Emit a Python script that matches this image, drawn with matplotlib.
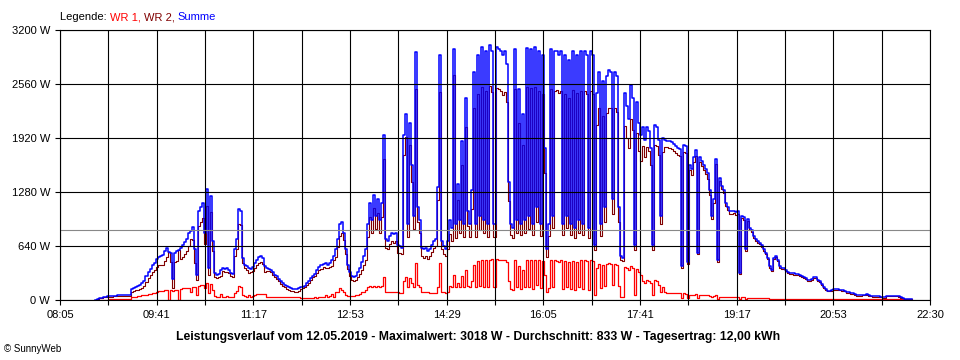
import numpy as np
import matplotlib
matplotlib.use("Agg")
import matplotlib.pyplot as plt

# ---------------- data (2-minute samples starting 08:40) ----------------
start_label = "08:40"
step_minutes = 2

# Summe (blue), read row by row: each row = 30 minutes
summe = [
    5, 15, 20, 20, 35, 40, 42, 45, 50, 52, 52, 55, 55, 58, 60,
    60, 62, 65, 125, 140, 155, 165, 175, 200, 230, 280, 330, 370, 410, 440,
    490, 515, 520, 530, 580, 620, 570, 560, 250, 560, 580, 590, 620, 650, 690,
    720, 790, 820, 860, 600, 300, 1050, 1100, 1150, 800, 1320, 380, 1230, 700, 320,
    300, 310, 350, 380, 370, 380, 360, 320, 310, 600, 720, 1075, 1050, 500, 420,
    400, 380, 370, 390, 440, 480, 510, 520, 500, 400, 380, 370, 360, 330, 300,
    280, 250, 220, 200, 180, 165, 150, 140, 135, 130, 130, 140, 150, 160, 170,
    200, 230, 260, 290, 310, 350, 390, 410, 430, 440, 420, 440, 470, 520, 600,
    720, 900, 920, 800, 600, 420, 330, 290, 270, 290, 330, 380, 450, 520, 600,
    900, 1150, 950, 1250, 1000, 1200, 950, 1150, 1950, 720, 700, 760, 800, 780, 800,
    650, 640, 620, 1950, 2200, 900, 2100, 1600, 1000, 2940, 1100, 950, 620, 600, 620,
    580, 600, 650, 700, 720, 1340, 2900, 700, 640, 600, 700, 950, 850, 2970, 900,
    1380, 950, 1880, 900, 2400, 1050, 900, 1300, 2700, 900, 2900, 1000, 3000, 950, 2950,
    900, 3018, 2950, 900, 3000, 2980, 2950, 2900, 2950, 2800, 1400, 900, 850, 2970, 950,
    2500, 900, 2200, 950, 2990, 1000, 2980, 900, 3000, 1100, 2950, 900, 2900, 1800, 600,
    900, 2970, 1000, 2950, 2950, 2900, 2950, 900, 2900, 1000, 2850, 900, 2950, 850, 2900,
    950, 2950, 900, 2950, 2900, 850, 2950, 2900, 650, 2450, 2700, 900, 2600, 1100, 2650,
    2720, 2700, 1200, 2700, 2650, 1100, 520, 500, 2450, 2300, 2150, 2550, 2400, 650, 2350,
    2100, 1950, 2050, 1900, 2050, 2000, 1800, 650, 2080, 2050, 1900, 1000, 1920, 1900, 1890,
    1880, 1870, 1850, 1820, 1800, 1790, 400, 1840, 1820, 450, 1600, 1550, 1700, 1780, 560,
    1700, 1650, 1600, 1550, 1500, 1300, 1000, 1200, 1670, 470, 1450, 1350, 1300, 1150, 1100,
    1050, 1050, 1060, 1040, 1050, 320, 1000, 980, 600, 960, 850, 830, 760, 720, 700,
    680, 650, 600, 560, 500, 400, 360, 500, 520, 480, 400, 380, 380, 360, 330,
    320, 320, 315, 310, 305, 300, 290, 270, 260, 240, 240, 250, 270, 275, 240,
    220, 190, 150, 130, 110, 110, 115, 125, 125, 125, 122, 118, 110, 95, 90,
    85, 80, 70, 60, 60, 60, 62, 65, 70, 60, 50, 47, 45, 45, 45,
    40, 30, 30, 50, 52, 52, 50, 50, 50, 48, 30, 28, 15, 12, 12,
    10, 8,
]

# WR 1 (red)
wr1 = [
    0, 0, 0, 0, 0, 0, 5, 8, 10, 10, 10, 10, 12, 12, 15,
    15, 15, 15, 30, 35, 40, 45, 50, 55, 60, 65, 70, 75, 80, 85,
    100, 105, 110, 110, 115, 115, 0, 115, 110, 115, 118, 0, 130, 140, 140,
    140, 145, 100, 150, 160, 60, 170, 175, 180, 140, 200, 80, 190, 120, 45,
    40, 40, 70, 40, 40, 45, 40, 40, 40, 80, 110, 170, 160, 60, 45,
    40, 60, 40, 50, 60, 70, 70, 70, 70, 70, 35, 30, 30, 30, 30,
    30, 30, 30, 30, 30, 30, 30, 30, 30, 30, 30, 30, 20, 20, 20,
    20, 25, 20, 20, 30, 25, 35, 40, 40, 60, 40, 45, 70, 40, 90,
    90, 140, 120, 90, 60, 50, 50, 50, 50, 55, 60, 70, 90, 100, 120,
    150, 170, 150, 165, 160, 165, 160, 165, 275, 100, 100, 100, 100, 100, 100,
    90, 80, 80, 230, 270, 150, 260, 200, 160, 440, 180, 150, 100, 100, 100,
    90, 80, 80, 80, 80, 160, 440, 100, 90, 80, 100, 170, 150, 300, 160,
    200, 160, 280, 150, 350, 170, 150, 220, 420, 150, 460, 170, 480, 160, 470,
    150, 480, 490, 150, 490, 480, 470, 470, 480, 450, 230, 130, 120, 470, 150,
    400, 130, 360, 150, 470, 160, 470, 130, 480, 180, 470, 140, 460, 300, 90,
    140, 470, 150, 470, 460, 450, 470, 130, 460, 150, 450, 130, 460, 120, 450,
    150, 470, 130, 470, 460, 120, 470, 460, 60, 380, 430, 140, 420, 170, 430,
    440, 430, 180, 430, 420, 170, 40, 40, 390, 380, 350, 400, 380, 60, 370,
    330, 300, 220, 200, 240, 230, 200, 60, 240, 230, 180, 100, 160, 90, 80,
    80, 80, 80, 80, 80, 80, 20, 80, 75, 20, 65, 65, 65, 70, 20,
    65, 60, 60, 55, 60, 50, 40, 50, 60, 15, 40, 35, 35, 30, 30,
    30, 30, 30, 30, 30, 10, 30, 30, 15, 28, 25, 25, 25, 20, 20,
    20, 20, 20, 18, 18, 15, 15, 15, 15, 15, 15, 12, 12, 12, 10,
    15, 15, 15, 15, 12, 12, 12, 10, 10, 10, 10, 10, 10, 10, 10,
    10, 10, 8, 8, 8, 8, 8, 8, 8, 8, 8, 8, 8, 8, 8,
    8, 8, 8, 8, 8, 8, 8, 8, 8, 8, 8, 8, 8, 8, 8,
    8, 8, 8, 8, 8, 8, 8, 8, 8, 8, 8, 8, 5, 5, 5,
    3, 0,
]

x_tick_labels = ["08:05", "09:41", "11:17", "12:53", "14:29",
                 "16:05", "17:41", "19:17", "20:53", "22:30"]
y_tick_values = [0, 640, 1280, 1920, 2560, 3200]
average_w = 833
legend_parts = [("Legende: ", "#000000"), ("WR 1, ", "#ff0000"),
                ("WR 2, ", "#800000"), ("Summe", "#0000ff")]
footer_text = ("Leistungsverlauf vom 12.05.2019 - Maximalwert: 3018 W - "
               "Durchschnitt: 833 W - Tagesertrag: 12,00 kWh")
credit_text = "\u00a9 SunnyWeb"

# ---------------- derived ----------------
def hm(s):
    h, m = s.split(":")
    return int(h) * 60 + int(m)

summe_a = np.array(summe, dtype=float)
wr1_a = np.array(wr1, dtype=float)
wr2_a = summe_a - wr1_a          # Summe = WR 1 + WR 2
t = hm(start_label) + step_minutes * np.arange(len(summe_a))

x0, x1 = hm(x_tick_labels[0]), hm(x_tick_labels[-1])

FONT = "Liberation Sans"
plt.rcParams["font.family"] = [FONT, "DejaVu Sans"]

W, H = 960, 360
fig = plt.figure(figsize=(W / 100, H / 100), dpi=100)
ax = fig.add_axes([60 / W, 60 / H, 870 / W, 270 / H])

ax.plot(t, wr1_a, color="#ff0000", lw=0.9, drawstyle="steps-post", zorder=2)
ax.plot(t, wr2_a, color="#800000", lw=0.8, drawstyle="steps-post", zorder=2.1)
ax.plot(t, summe_a, color="#0000ff", lw=1.1, drawstyle="steps-post", zorder=2.2)

ax.set_xlim(x0, x1)
ax.set_ylim(0, 3200)

xt = np.linspace(x0, x1, 2 * (len(x_tick_labels) - 1) + 1)
ax.set_xticks(xt)
ax.set_xticklabels([x_tick_labels[i // 2] if i % 2 == 0 else "" for i in range(len(xt))])
ax.set_yticks(y_tick_values)
ax.set_yticklabels([f"{v} W" for v in y_tick_values])

for v in xt:
    ax.axvline(v, color="black", lw=0.8, zorder=3)
for v in y_tick_values:
    ax.axhline(v, color="black", lw=0.8, zorder=3)
ax.axhline(average_w, color="#888888", lw=0.8, zorder=3.5)

ax.tick_params(direction="out", length=3.6, width=0.8, labelsize=8, pad=3.5,
               colors="black")
for s in ax.spines.values():
    s.set_linewidth(0.8)
    s.set_zorder(4)

# legend (multi-coloured text line)
fig.canvas.draw()
renderer = fig.canvas.get_renderer()
xpos = 60
for txt, col in legend_parts:
    tt = fig.text(xpos / W, 1 - 17 / H, txt, color=col, fontsize=8,
                  ha="left", va="center")
    bb = tt.get_window_extent(renderer)
    xpos = bb.x1

fig.text(478 / W, 1 - 337 / H, footer_text, fontsize=8.8, fontweight="bold",
         ha="center", va="center")
fig.text(4 / W, 1 - 349 / H, credit_text, fontsize=7, ha="left", va="center")

fig.savefig("out.png", dpi=100)
